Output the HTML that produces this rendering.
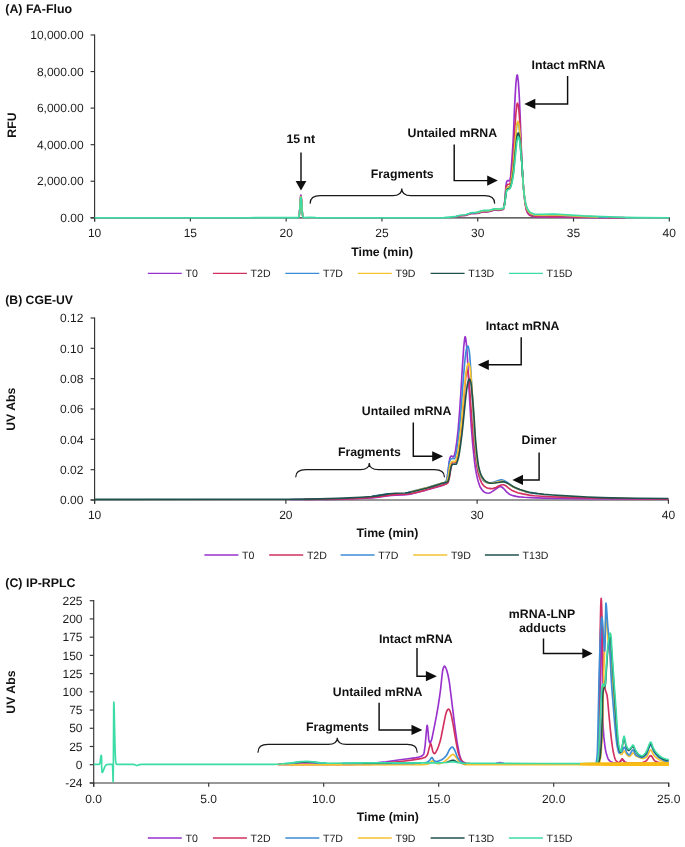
<!DOCTYPE html>
<html><head><meta charset="utf-8"><title>mRNA-LNP chromatograms</title>
<style>
html,body{margin:0;padding:0;background:#fff;}
body{width:685px;height:847px;overflow:hidden;}
svg{display:block;font-family:"Liberation Sans",sans-serif;will-change:transform;transform:translateZ(0);}
text{text-rendering:geometricPrecision;}
</style></head><body>
<svg width="685" height="847" viewBox="0 0 685 847">
<rect width="685" height="847" fill="#ffffff"/>
<text x="5.30" y="13.30" font-size="12.4" font-weight="bold" text-anchor="start" fill="#111">(A) FA-Fluo</text>
<line x1="94.60" y1="34.40" x2="94.60" y2="221.60" stroke="#333333" stroke-width="1.15"/>
<line x1="90.60" y1="217.80" x2="669.90" y2="217.80" stroke="#333333" stroke-width="1.15"/>
<line x1="90.60" y1="217.80" x2="94.60" y2="217.80" stroke="#333333" stroke-width="1.15"/>
<text x="83.60" y="222.00" font-size="12.0" text-anchor="end" fill="#1c1c1c">0.00</text>
<line x1="90.60" y1="181.24" x2="94.60" y2="181.24" stroke="#333333" stroke-width="1.15"/>
<text x="83.60" y="185.44" font-size="12.0" text-anchor="end" fill="#1c1c1c">2,000.00</text>
<line x1="90.60" y1="144.68" x2="94.60" y2="144.68" stroke="#333333" stroke-width="1.15"/>
<text x="83.60" y="148.88" font-size="12.0" text-anchor="end" fill="#1c1c1c">4,000.00</text>
<line x1="90.60" y1="108.12" x2="94.60" y2="108.12" stroke="#333333" stroke-width="1.15"/>
<text x="83.60" y="112.32" font-size="12.0" text-anchor="end" fill="#1c1c1c">6,000.00</text>
<line x1="90.60" y1="71.56" x2="94.60" y2="71.56" stroke="#333333" stroke-width="1.15"/>
<text x="83.60" y="75.76" font-size="12.0" text-anchor="end" fill="#1c1c1c">8,000.00</text>
<line x1="90.60" y1="35.00" x2="94.60" y2="35.00" stroke="#333333" stroke-width="1.15"/>
<text x="83.60" y="39.20" font-size="12.0" text-anchor="end" fill="#1c1c1c">10,000.00</text>
<line x1="94.60" y1="217.80" x2="94.60" y2="221.60" stroke="#333333" stroke-width="1.15"/>
<text x="94.60" y="236.70" font-size="12.0" text-anchor="middle" fill="#1c1c1c">10</text>
<line x1="190.38" y1="217.80" x2="190.38" y2="221.60" stroke="#333333" stroke-width="1.15"/>
<text x="190.38" y="236.70" font-size="12.0" text-anchor="middle" fill="#1c1c1c">15</text>
<line x1="286.17" y1="217.80" x2="286.17" y2="221.60" stroke="#333333" stroke-width="1.15"/>
<text x="286.17" y="236.70" font-size="12.0" text-anchor="middle" fill="#1c1c1c">20</text>
<line x1="381.95" y1="217.80" x2="381.95" y2="221.60" stroke="#333333" stroke-width="1.15"/>
<text x="381.95" y="236.70" font-size="12.0" text-anchor="middle" fill="#1c1c1c">25</text>
<line x1="477.73" y1="217.80" x2="477.73" y2="221.60" stroke="#333333" stroke-width="1.15"/>
<text x="477.73" y="236.70" font-size="12.0" text-anchor="middle" fill="#1c1c1c">30</text>
<line x1="573.52" y1="217.80" x2="573.52" y2="221.60" stroke="#333333" stroke-width="1.15"/>
<text x="573.52" y="236.70" font-size="12.0" text-anchor="middle" fill="#1c1c1c">35</text>
<line x1="669.30" y1="217.80" x2="669.30" y2="221.60" stroke="#333333" stroke-width="1.15"/>
<text x="669.30" y="236.70" font-size="12.0" text-anchor="middle" fill="#1c1c1c">40</text>
<text x="382.20" y="256.00" font-size="12.3" font-weight="bold" text-anchor="middle" fill="#111">Time (min)</text>
<text x="15.90" y="125.10" font-size="12.3" font-weight="bold" text-anchor="middle" fill="#111" transform="rotate(-90 15.90 125.10)">RFU</text>
<polyline points="298.10,217.65 298.50,217.45 298.80,216.99 299.10,215.93 299.30,214.69 299.70,210.48 300.50,197.88 300.70,195.84 300.90,195.03 301.10,195.60 301.30,197.45 302.10,209.99 302.50,214.41 302.70,215.73 303.00,216.88 303.30,217.38 303.70,217.60" fill="none" stroke="#9932CC" stroke-width="1.65" stroke-linejoin="round" stroke-linecap="butt" />
<polyline points="454.20,216.96 456.00,216.70 460.20,215.73 464.20,215.51 465.60,215.33 467.10,214.92 470.00,213.85 471.40,213.51 472.80,213.39 475.70,213.49 477.20,213.40 478.50,213.14 481.40,212.24 482.80,211.92 484.10,211.79 487.10,211.81 488.50,211.69 489.90,211.38 492.90,210.46 494.40,210.19 495.80,210.15 498.60,210.32 499.80,210.25 503.30,209.48 503.50,209.16 504.00,206.69 504.70,201.58 505.20,196.29 505.80,186.97 506.10,184.58 506.50,182.33 506.90,181.20 507.70,180.53 508.30,180.41 509.20,180.99 509.50,180.87 509.80,180.26 510.10,179.25 510.60,176.64 511.90,159.80 513.10,141.68 513.50,133.58 514.50,107.87 515.70,86.61 516.00,82.50 516.40,78.89 516.80,76.10 517.00,75.23 517.20,74.90 517.40,75.23 517.60,76.10 518.30,81.40 519.20,94.74 520.10,114.48 521.80,161.20 522.50,173.75 523.40,186.54 524.50,198.49 525.00,202.69 525.40,205.16 526.10,208.75 526.70,211.02 527.40,212.61 528.20,213.88 528.80,214.55 529.40,215.01 530.30,215.55 531.30,215.98 534.20,216.70 536.70,216.93 542.90,217.08 561.90,217.22 594.10,217.67 626.60,217.70" fill="none" stroke="#9932CC" stroke-width="1.65" stroke-linejoin="round" stroke-linecap="butt" />
<polyline points="298.30,217.59 298.60,217.36 298.90,216.76 299.20,215.47 299.40,214.02 299.80,209.40 300.50,198.68 300.70,196.72 300.90,195.95 301.10,196.50 301.30,198.27 302.10,210.30 302.50,214.54 302.90,216.63 303.20,217.28 303.50,217.53" fill="none" stroke="#D2305F" stroke-width="1.65" stroke-linejoin="round" stroke-linecap="butt" />
<polyline points="455.70,216.71 460.20,215.66 464.30,215.42 465.70,215.21 467.10,214.82 470.10,213.70 471.50,213.37 472.80,213.26 475.70,213.33 477.10,213.23 478.50,212.95 481.40,212.03 482.80,211.71 484.10,211.58 487.10,211.61 488.50,211.49 489.90,211.19 492.90,210.27 494.40,210.00 495.80,209.96 498.60,210.13 499.80,210.06 502.80,209.33 503.40,209.08 503.60,208.63 503.90,207.37 504.60,203.03 505.20,197.83 505.80,190.61 506.50,186.16 506.90,185.21 507.60,184.58 508.30,184.33 509.30,184.51 509.60,184.27 510.00,183.47 510.40,182.26 510.80,179.94 512.00,168.96 513.20,155.87 514.60,131.23 515.90,113.19 516.80,105.11 517.10,103.73 517.40,103.23 517.60,103.34 517.90,104.01 518.40,106.17 518.90,110.54 519.50,117.55 520.10,127.42 521.60,158.01 522.30,170.43 523.20,184.04 524.20,195.26 525.10,202.77 526.20,208.50 526.70,210.32 527.20,211.57 527.90,212.84 528.70,213.88 530.00,214.89 531.50,215.60 534.10,216.28 536.30,216.52 543.10,216.68 560.80,216.79 594.20,217.48 624.50,217.65" fill="none" stroke="#D2305F" stroke-width="1.65" stroke-linejoin="round" stroke-linecap="butt" />
<polyline points="298.60,217.36 299.00,216.46 299.40,214.12 299.80,209.61 300.50,199.16 300.70,197.25 300.90,196.50 301.10,197.03 301.30,198.76 302.40,213.80 302.80,216.30 303.00,216.93 303.30,217.40" fill="none" stroke="#3C8CD6" stroke-width="1.65" stroke-linejoin="round" stroke-linecap="butt" />
<polyline points="471.00,213.06 472.60,212.82 475.70,212.78 477.00,212.65 478.40,212.33 481.20,211.39 482.50,211.05 484.10,210.87 487.10,210.92 488.50,210.82 489.90,210.53 492.80,209.65 494.10,209.39 495.60,209.32 498.60,209.50 499.90,209.41 503.20,208.62 503.60,208.31 503.80,207.83 504.10,206.54 504.80,202.33 505.90,192.72 506.50,189.01 506.90,188.13 507.50,187.51 508.20,187.14 509.30,186.99 509.80,186.53 510.50,184.97 511.20,181.60 512.40,173.54 513.30,166.17 515.10,143.02 516.50,128.03 516.80,125.65 517.10,124.11 517.50,122.89 517.70,122.59 517.90,122.48 518.10,122.57 518.30,122.88 518.70,124.48 519.30,128.41 519.70,131.98 521.80,162.22 523.10,182.87 523.70,190.00 524.40,196.44 525.30,202.61 525.80,205.05 526.40,207.37 526.90,208.88 527.50,210.23 528.20,211.36 529.00,212.35 530.20,213.41 531.50,214.10 533.80,214.88 535.70,215.20 543.70,215.34 551.30,215.17 555.20,215.22 562.60,215.48 584.80,216.54 608.10,217.17" fill="none" stroke="#3C8CD6" stroke-width="1.65" stroke-linejoin="round" stroke-linecap="butt" />
<polyline points="298.90,216.80 299.20,215.56 299.50,213.28 300.50,199.48 300.70,197.60 300.90,196.86 301.10,197.39 301.30,199.08 302.30,212.92 302.60,215.34 303.00,216.94" fill="none" stroke="#F6C230" stroke-width="1.65" stroke-linejoin="round" stroke-linecap="butt" />
<polyline points="476.00,212.65 478.00,212.32 481.30,211.22 482.80,210.86 484.20,210.73 487.10,210.79 488.50,210.69 489.90,210.40 492.90,209.49 494.40,209.23 495.80,209.19 498.50,209.37 499.80,209.30 503.30,208.50 503.70,208.09 504.10,206.57 504.80,202.36 505.90,192.63 506.50,188.87 506.90,187.97 507.50,187.34 508.20,186.96 509.30,186.83 509.80,186.36 510.50,184.77 511.20,181.26 512.40,172.98 513.30,165.42 515.10,141.78 516.50,126.72 516.80,124.35 517.10,122.83 517.50,121.68 517.70,121.42 517.90,121.36 518.10,121.50 518.30,121.86 518.70,123.57 519.30,127.71 519.70,131.43 521.80,162.23 523.10,182.88 523.60,188.91 524.20,194.72 525.10,201.25 525.60,203.89 526.10,205.94 526.70,207.95 527.30,209.45 527.90,210.53 528.80,211.76 530.00,212.94 531.10,213.61 533.50,214.53 535.60,214.93 543.70,215.07 551.20,214.87 555.10,214.91 562.60,215.22 583.10,216.31 598.20,216.83" fill="none" stroke="#F6C230" stroke-width="1.65" stroke-linejoin="round" stroke-linecap="butt" />
<polyline points="504.20,206.23 504.90,202.22 506.10,192.97 506.50,190.66 506.90,189.83 507.40,189.26 508.10,188.80 509.50,188.31 509.80,188.03 510.20,187.41 510.60,186.53 511.10,184.97 512.10,180.21 513.00,175.02 513.70,169.62 515.30,152.13 516.70,138.32 517.20,135.50 517.60,133.97 517.90,133.21 518.10,132.95 518.30,132.94 518.70,133.73 519.30,136.24 519.70,138.69 521.80,162.51 522.70,176.73" fill="none" stroke="#1E524C" stroke-width="1.65" stroke-linejoin="round" stroke-linecap="butt" />
<polyline points="94.60,217.70 247.90,217.70 265.10,217.52 278.40,217.69 297.90,217.68 298.40,217.55 298.80,217.06 299.10,216.12 299.30,215.01 299.70,211.24 300.50,199.96 300.70,198.13 300.90,197.41 301.10,197.92 301.30,199.57 302.10,210.80 302.50,214.75 302.70,215.94 303.00,216.96 303.40,217.49 303.90,217.63 310.10,217.30 316.00,217.64 320.20,217.70 434.30,217.70 443.90,217.56 454.30,216.69 456.10,216.35 460.30,215.24 465.20,214.78 466.80,214.36 469.80,213.17 471.10,212.76 472.60,212.51 475.70,212.39 477.10,212.22 478.50,211.85 481.50,210.81 482.90,210.49 484.20,210.38 487.10,210.44 488.50,210.35 490.00,210.04 492.90,209.17 494.40,208.91 495.70,208.87 498.70,209.05 500.20,208.91 503.50,208.11 503.80,207.80 504.20,206.29 504.90,202.40 506.20,192.88 506.50,191.28 506.90,190.47 507.50,189.82 508.10,189.43 509.40,188.93 509.90,188.50 510.40,187.69 510.90,186.60 511.50,184.62 512.80,178.52 513.70,172.72 516.80,142.19 517.70,137.95 518.00,137.11 518.30,136.80 518.50,136.92 518.70,137.26 519.20,138.79 519.60,140.51 519.90,142.90 521.80,162.60 523.00,181.54 523.50,187.79 524.20,194.43 525.00,199.93 525.90,204.27 526.60,206.62 527.30,208.45 527.90,209.56 529.00,211.08 530.00,212.12 530.90,212.75 533.50,213.85 534.60,214.15 535.70,214.29 543.80,214.40 551.10,214.11 554.90,214.15 562.50,214.54 583.50,215.92 601.80,216.66 623.70,217.36 637.70,217.64 669.30,217.70" fill="none" stroke="#3CDCA5" stroke-width="1.65" stroke-linejoin="round" stroke-linecap="butt" />
<text x="300.80" y="142.90" font-size="12.3" font-weight="bold" text-anchor="middle" fill="#111">15 nt</text>
<line x1="301.00" y1="152.50" x2="301.00" y2="181.00" stroke="#111" stroke-width="1.45"/>
<polygon points="295.60,181.00 301.00,190.50 306.40,181.00" fill="#111"/>
<text x="402.20" y="177.90" font-size="12.3" font-weight="bold" text-anchor="middle" fill="#111">Fragments</text>
<path d="M310.20,203.20 Q310.20,195.60 320.20,195.60 L392.80,195.60 Q401.80,195.60 401.80,188.40 Q401.80,195.60 410.80,195.60 L484.60,195.60 Q494.60,195.60 494.60,203.20" fill="none" stroke="#1a1a1a" stroke-width="1.2" stroke-linecap="round"/>
<text x="452.30" y="137.30" font-size="12.3" font-weight="bold" text-anchor="middle" fill="#111">Untailed mRNA</text>
<polyline points="454.20,144.50 454.20,180.60 488.20,180.60" fill="none" stroke="#0d0d0d" stroke-width="1.45" stroke-linejoin="miter"/>
<polygon points="487.20,175.45 497.80,180.60 487.20,185.75" fill="#0d0d0d"/>
<text x="568.40" y="68.60" font-size="12.3" font-weight="bold" text-anchor="middle" fill="#111">Intact mRNA</text>
<polyline points="567.60,76.00 567.60,103.90 534.30,103.90" fill="none" stroke="#0d0d0d" stroke-width="1.45" stroke-linejoin="miter"/>
<polygon points="535.30,98.75 524.30,103.90 535.30,109.05" fill="#0d0d0d"/>
<line x1="147.80" y1="273.40" x2="181.80" y2="273.40" stroke="#9932CC" stroke-width="1.4"/>
<text x="185.50" y="277.00" font-size="10.6" text-anchor="start" fill="#1c1c1c">T0</text>
<line x1="212.90" y1="273.40" x2="246.90" y2="273.40" stroke="#D2305F" stroke-width="1.4"/>
<text x="250.60" y="277.00" font-size="10.6" text-anchor="start" fill="#1c1c1c">T2D</text>
<line x1="285.30" y1="273.40" x2="319.30" y2="273.40" stroke="#3C8CD6" stroke-width="1.4"/>
<text x="323.00" y="277.00" font-size="10.6" text-anchor="start" fill="#1c1c1c">T7D</text>
<line x1="357.80" y1="273.40" x2="391.80" y2="273.40" stroke="#F6C230" stroke-width="1.4"/>
<text x="395.50" y="277.00" font-size="10.6" text-anchor="start" fill="#1c1c1c">T9D</text>
<line x1="430.60" y1="273.40" x2="464.60" y2="273.40" stroke="#1E524C" stroke-width="1.4"/>
<text x="468.30" y="277.00" font-size="10.6" text-anchor="start" fill="#1c1c1c">T13D</text>
<line x1="508.90" y1="273.40" x2="542.90" y2="273.40" stroke="#3CDCA5" stroke-width="1.4"/>
<text x="546.60" y="277.00" font-size="10.6" text-anchor="start" fill="#1c1c1c">T15D</text>
<text x="5.30" y="303.70" font-size="12.2" font-weight="bold" text-anchor="start" fill="#111">(B) CGE-UV</text>
<line x1="94.60" y1="317.40" x2="94.60" y2="503.80" stroke="#333333" stroke-width="1.15"/>
<line x1="90.60" y1="500.00" x2="669.00" y2="500.00" stroke="#333333" stroke-width="1.15"/>
<line x1="90.60" y1="500.00" x2="94.60" y2="500.00" stroke="#333333" stroke-width="1.15"/>
<text x="83.40" y="504.20" font-size="12.0" text-anchor="end" fill="#1c1c1c">0.00</text>
<line x1="90.60" y1="469.67" x2="94.60" y2="469.67" stroke="#333333" stroke-width="1.15"/>
<text x="83.40" y="473.87" font-size="12.0" text-anchor="end" fill="#1c1c1c">0.02</text>
<line x1="90.60" y1="439.33" x2="94.60" y2="439.33" stroke="#333333" stroke-width="1.15"/>
<text x="83.40" y="443.53" font-size="12.0" text-anchor="end" fill="#1c1c1c">0.04</text>
<line x1="90.60" y1="409.00" x2="94.60" y2="409.00" stroke="#333333" stroke-width="1.15"/>
<text x="83.40" y="413.20" font-size="12.0" text-anchor="end" fill="#1c1c1c">0.06</text>
<line x1="90.60" y1="378.67" x2="94.60" y2="378.67" stroke="#333333" stroke-width="1.15"/>
<text x="83.40" y="382.87" font-size="12.0" text-anchor="end" fill="#1c1c1c">0.08</text>
<line x1="90.60" y1="348.33" x2="94.60" y2="348.33" stroke="#333333" stroke-width="1.15"/>
<text x="83.40" y="352.53" font-size="12.0" text-anchor="end" fill="#1c1c1c">0.10</text>
<line x1="90.60" y1="318.00" x2="94.60" y2="318.00" stroke="#333333" stroke-width="1.15"/>
<text x="83.40" y="322.20" font-size="12.0" text-anchor="end" fill="#1c1c1c">0.12</text>
<line x1="94.60" y1="500.00" x2="94.60" y2="503.80" stroke="#333333" stroke-width="1.15"/>
<text x="94.60" y="519.30" font-size="12.0" text-anchor="middle" fill="#1c1c1c">10</text>
<line x1="285.87" y1="500.00" x2="285.87" y2="503.80" stroke="#333333" stroke-width="1.15"/>
<text x="285.87" y="519.30" font-size="12.0" text-anchor="middle" fill="#1c1c1c">20</text>
<line x1="477.13" y1="500.00" x2="477.13" y2="503.80" stroke="#333333" stroke-width="1.15"/>
<text x="477.13" y="519.30" font-size="12.0" text-anchor="middle" fill="#1c1c1c">30</text>
<line x1="668.40" y1="500.00" x2="668.40" y2="503.80" stroke="#333333" stroke-width="1.15"/>
<text x="668.40" y="519.30" font-size="12.0" text-anchor="middle" fill="#1c1c1c">40</text>
<text x="387.40" y="536.60" font-size="12.3" font-weight="bold" text-anchor="middle" fill="#111">Time (min)</text>
<text x="15.10" y="409.20" font-size="12.3" font-weight="bold" text-anchor="middle" fill="#111" transform="rotate(-90 15.10 409.20)">UV Abs</text>
<polyline points="289.60,499.50 310.20,499.48 330.00,499.32 343.90,499.13 354.60,498.79 371.60,497.89 376.50,497.39 387.10,495.96 391.80,495.44 395.40,495.18 403.10,494.90 406.20,494.70 410.20,494.11 415.20,492.99 422.10,491.26 431.00,488.62 438.20,486.81 440.90,485.98 443.80,484.87 444.70,484.43 445.50,483.82 446.00,483.25 446.30,482.42 447.30,477.43 448.20,470.50 449.10,462.11 450.00,457.74 450.50,456.49 451.10,456.15 451.90,456.01 452.90,456.88 453.20,457.00 453.50,456.83 453.90,456.16 454.60,454.15 455.40,451.10 456.70,442.46 458.10,430.17 459.40,414.00 460.90,392.27 462.70,362.11 463.70,347.28 464.60,339.12 464.90,337.38 465.20,336.70 465.50,337.38 465.80,339.12 466.50,345.02 466.80,348.48 467.70,362.41 469.90,404.77 471.20,425.68 472.70,444.30 474.50,461.36 475.40,468.14 476.30,473.38 477.30,478.10 478.40,482.03 479.60,485.61 480.60,487.85 482.20,490.09 483.80,491.69 485.00,492.42 486.80,492.99 488.30,493.20 489.40,493.05 490.90,492.38 494.00,490.41 497.60,487.76 499.50,486.81 500.60,486.60 501.10,486.71 501.70,487.01 503.40,488.26 504.10,488.97 506.30,491.61 508.70,493.71 509.60,494.35 510.40,494.78 513.10,495.66 516.20,496.36 519.40,496.82 524.30,497.28 531.10,497.65 543.50,498.06 577.80,498.67 623.40,499.05 668.40,499.20" fill="none" stroke="#9932CC" stroke-width="1.65" stroke-linejoin="round" stroke-linecap="butt" />
<polyline points="304.30,499.36 322.10,499.18 342.20,498.82 350.80,498.56 359.80,498.15 369.50,497.58 374.80,497.17 379.30,496.62 389.60,495.12 394.40,494.58 397.90,494.36 406.10,494.09 408.70,493.90 411.20,493.53 414.00,492.96 425.40,490.08 441.30,485.57 446.20,483.93 447.50,483.21 448.00,482.73 448.30,482.07 449.30,478.17 450.20,472.83 451.10,466.37 452.00,462.99 452.50,462.01 453.10,461.72 453.90,461.59 454.90,462.22 455.20,462.30 455.50,462.16 455.90,461.63 456.60,460.06 457.40,457.69 458.70,451.02 460.10,441.54 461.40,429.09 462.90,412.38 464.70,389.19 465.70,377.78 466.60,371.49 466.90,370.13 467.20,369.60 467.50,370.10 467.80,371.42 468.50,375.89 468.80,378.52 469.70,389.11 471.70,418.66 473.10,436.17 474.60,450.61 476.40,463.77 477.20,468.52 478.10,472.70 479.10,476.45 480.10,479.31 481.40,482.36 482.50,484.31 483.90,485.85 485.50,487.14 486.60,487.72 487.90,488.09 490.60,488.67 492.20,488.67 493.40,488.39 495.90,487.40 499.10,485.82 501.10,485.06 502.30,484.74 503.20,484.75 504.30,485.08 505.70,485.72 508.30,487.86 510.80,489.60 512.20,490.46 515.20,491.83 517.70,492.69 522.70,493.91 529.50,495.12 534.70,495.70 541.90,496.25 550.50,496.72 561.20,497.14 599.50,498.27 634.90,498.72 668.40,498.91" fill="none" stroke="#D2305F" stroke-width="1.65" stroke-linejoin="round" stroke-linecap="butt" />
<polyline points="371.90,496.22 384.80,494.20 389.30,493.61" fill="none" stroke="#3C8CD6" stroke-width="1.65" stroke-linejoin="round" stroke-linecap="butt" />
<polyline points="405.20,492.84 407.60,492.46 410.40,491.85 428.20,487.23 441.10,483.17 444.40,482.52 445.70,481.85 446.00,481.59 446.20,481.22 446.70,479.58 447.40,476.33 449.00,464.36 449.30,462.53 449.60,461.41 450.30,459.70 450.60,459.24 450.90,458.97 451.60,458.64 452.20,458.48 452.80,458.49 454.20,458.75 454.40,458.67 454.60,458.43 455.10,457.28 455.60,455.52 456.50,451.61 456.90,449.45 457.60,444.30 458.70,434.80 460.20,419.61 461.00,410.13 463.70,373.88 464.70,362.48 465.60,354.44 466.20,350.29 466.50,348.96 467.10,347.09 467.50,346.26 467.80,346.05 468.10,346.36 468.40,347.18 469.20,350.85 469.60,354.21 470.10,360.23 471.70,384.33 472.40,397.25 473.40,418.76 474.00,429.04 474.80,440.65 475.90,453.02 476.80,460.87 477.80,466.48 478.50,469.63 479.20,472.24 479.90,474.33 480.60,475.95 482.10,478.79 483.50,480.72 484.60,481.64 485.70,482.21 486.70,482.60 487.70,482.85 488.70,482.97 489.70,482.96 490.80,482.82 493.30,482.20 499.80,480.06 501.30,479.81 502.40,479.90 503.90,480.47 506.60,482.00 511.40,485.74 513.00,486.83 515.40,488.11 518.10,489.29 523.20,491.07 527.00,492.17 531.70,493.02 537.40,493.79" fill="none" stroke="#3C8CD6" stroke-width="1.65" stroke-linejoin="round" stroke-linecap="butt" />
<polyline points="410.60,491.99 427.60,487.62 432.40,486.21 441.90,483.17 443.90,482.77" fill="none" stroke="#F6C230" stroke-width="1.65" stroke-linejoin="round" stroke-linecap="butt" />
<polyline points="444.30,482.69 445.60,482.31 446.70,481.70 447.00,481.28 447.30,480.50 448.30,476.45 450.00,465.38 450.30,464.19 450.80,462.98 451.50,461.91 452.30,461.52 453.30,461.33 455.00,461.57 455.40,461.29 455.80,460.53 456.20,459.41 457.50,454.46 458.20,450.34 459.30,442.20 460.90,428.34 461.80,419.09 464.50,387.44 465.50,377.48 466.40,370.46 467.00,366.83 467.30,365.68 467.90,364.04 468.30,363.32 468.60,363.13 468.90,363.40 469.20,364.12 469.90,366.83 470.30,369.39 470.70,373.26 471.80,386.57 472.40,395.04 473.20,407.85 474.20,426.64 475.20,440.99 476.60,455.69 477.20,460.70 477.80,464.60 478.90,469.59 480.00,473.40 481.00,475.88 482.70,478.85 484.00,480.54 484.70,481.20 485.30,481.62 486.60,482.27 487.80,482.73 489.00,483.05 490.10,483.18" fill="none" stroke="#F6C230" stroke-width="1.65" stroke-linejoin="round" stroke-linecap="butt" />
<polyline points="491.10,483.17 493.70,482.85 500.30,481.51 501.70,481.32 502.50,481.31 503.30,481.43 505.20,482.15" fill="none" stroke="#F6C230" stroke-width="1.65" stroke-linejoin="round" stroke-linecap="butt" />
<polyline points="507.70,483.37 512.90,486.72 516.20,488.30 519.50,489.58 523.70,490.98 526.70,491.89 529.10,492.44" fill="none" stroke="#F6C230" stroke-width="1.65" stroke-linejoin="round" stroke-linecap="butt" />
<polyline points="94.60,499.30 289.70,499.29 305.60,499.13 319.60,498.88 338.10,498.36 349.50,497.92 361.00,497.26 371.60,496.45 376.50,495.82 387.40,494.07 392.20,493.49 395.70,493.27 405.10,492.99 408.20,492.65 412.30,491.80 427.20,487.98 432.80,486.37 442.80,483.17 446.10,482.40 447.00,482.04 447.70,481.61 448.00,481.13 448.40,480.08 449.20,477.13 450.90,467.54 451.10,466.77 451.50,465.84 452.20,464.71 452.50,464.45 452.90,464.28 454.10,464.00 455.90,464.20 456.30,463.96 456.70,463.30 457.20,462.05 458.50,457.63 459.20,453.89 460.30,446.78 461.90,434.63 462.70,427.47 465.40,400.11 466.40,391.51 467.30,385.44 467.90,382.30 468.20,381.30 468.80,379.89 469.20,379.26 469.50,379.10 469.80,379.33 470.10,379.96 470.90,382.72 471.30,385.26 471.70,388.82 473.30,406.69 474.10,417.77 475.10,434.01 475.90,444.16 476.90,454.15 478.20,464.11 478.70,466.85 479.60,470.47 480.40,473.10 481.30,475.43 482.30,477.30 483.70,479.34 484.90,480.69 486.00,481.54 487.60,482.30 489.10,482.87 490.30,483.18 491.50,483.30 494.80,483.04 498.40,482.53 502.10,481.87 503.30,481.80 504.20,481.92 505.50,482.34 508.50,483.66 513.50,486.67 515.60,487.71 520.00,489.45 525.70,491.33 529.00,492.24 532.80,492.92 538.10,493.67 544.20,494.33 552.30,494.98 562.30,495.61 587.20,496.96 601.80,497.58 611.00,497.82 637.00,498.26 668.40,498.50" fill="none" stroke="#1E524C" stroke-width="1.65" stroke-linejoin="round" stroke-linecap="butt" />
<text x="369.40" y="455.80" font-size="12.3" font-weight="bold" text-anchor="middle" fill="#111">Fragments</text>
<path d="M295.80,476.80 Q295.80,469.60 305.80,469.60 L360.30,469.60 Q369.30,469.60 369.30,463.00 Q369.30,469.60 378.30,469.60 L434.40,469.60 Q444.40,469.60 444.40,476.80" fill="none" stroke="#1a1a1a" stroke-width="1.2" stroke-linecap="round"/>
<text x="406.60" y="414.50" font-size="12.3" font-weight="bold" text-anchor="middle" fill="#111">Untailed mRNA</text>
<polyline points="413.30,422.40 413.30,456.30 433.20,456.30" fill="none" stroke="#0d0d0d" stroke-width="1.45" stroke-linejoin="miter"/>
<polygon points="432.20,451.15 443.10,456.30 432.20,461.45" fill="#0d0d0d"/>
<text x="522.60" y="329.50" font-size="12.3" font-weight="bold" text-anchor="middle" fill="#111">Intact mRNA</text>
<polyline points="521.20,337.30 521.20,364.80 487.80,364.80" fill="none" stroke="#0d0d0d" stroke-width="1.45" stroke-linejoin="miter"/>
<polygon points="488.80,359.65 477.80,364.80 488.80,369.95" fill="#0d0d0d"/>
<text x="539.00" y="444.40" font-size="12.3" font-weight="bold" text-anchor="middle" fill="#111">Dimer</text>
<polyline points="539.10,452.60 539.10,479.90 522.00,479.90" fill="none" stroke="#0d0d0d" stroke-width="1.45" stroke-linejoin="miter"/>
<polygon points="523.00,474.75 512.40,479.90 523.00,485.05" fill="#0d0d0d"/>
<line x1="204.40" y1="555.00" x2="238.40" y2="555.00" stroke="#9932CC" stroke-width="1.4"/>
<text x="242.10" y="558.60" font-size="10.6" text-anchor="start" fill="#1c1c1c">T0</text>
<line x1="269.20" y1="555.00" x2="303.20" y2="555.00" stroke="#D2305F" stroke-width="1.4"/>
<text x="306.90" y="558.60" font-size="10.6" text-anchor="start" fill="#1c1c1c">T2D</text>
<line x1="340.60" y1="555.00" x2="374.60" y2="555.00" stroke="#3C8CD6" stroke-width="1.4"/>
<text x="378.30" y="558.60" font-size="10.6" text-anchor="start" fill="#1c1c1c">T7D</text>
<line x1="413.20" y1="555.00" x2="447.20" y2="555.00" stroke="#F6C230" stroke-width="1.4"/>
<text x="450.90" y="558.60" font-size="10.6" text-anchor="start" fill="#1c1c1c">T9D</text>
<line x1="484.90" y1="555.00" x2="518.90" y2="555.00" stroke="#1E524C" stroke-width="1.4"/>
<text x="522.60" y="558.60" font-size="10.6" text-anchor="start" fill="#1c1c1c">T13D</text>
<text x="5.30" y="587.00" font-size="12.4" font-weight="bold" text-anchor="start" fill="#111">(C) IP-RPLC</text>
<line x1="93.70" y1="600.12" x2="93.70" y2="786.80" stroke="#333333" stroke-width="1.15"/>
<line x1="89.70" y1="783.00" x2="668.70" y2="783.00" stroke="#333333" stroke-width="1.15"/>
<line x1="668.70" y1="782.40" x2="668.70" y2="786.80" stroke="#333333" stroke-width="1.15"/>
<line x1="89.70" y1="600.72" x2="93.70" y2="600.72" stroke="#333333" stroke-width="1.15"/>
<text x="82.50" y="604.92" font-size="12.0" text-anchor="end" fill="#1c1c1c">225</text>
<line x1="89.70" y1="618.94" x2="93.70" y2="618.94" stroke="#333333" stroke-width="1.15"/>
<text x="82.50" y="623.14" font-size="12.0" text-anchor="end" fill="#1c1c1c">200</text>
<line x1="89.70" y1="637.16" x2="93.70" y2="637.16" stroke="#333333" stroke-width="1.15"/>
<text x="82.50" y="641.36" font-size="12.0" text-anchor="end" fill="#1c1c1c">175</text>
<line x1="89.70" y1="655.38" x2="93.70" y2="655.38" stroke="#333333" stroke-width="1.15"/>
<text x="82.50" y="659.58" font-size="12.0" text-anchor="end" fill="#1c1c1c">150</text>
<line x1="89.70" y1="673.60" x2="93.70" y2="673.60" stroke="#333333" stroke-width="1.15"/>
<text x="82.50" y="677.80" font-size="12.0" text-anchor="end" fill="#1c1c1c">125</text>
<line x1="89.70" y1="691.82" x2="93.70" y2="691.82" stroke="#333333" stroke-width="1.15"/>
<text x="82.50" y="696.02" font-size="12.0" text-anchor="end" fill="#1c1c1c">100</text>
<line x1="89.70" y1="710.04" x2="93.70" y2="710.04" stroke="#333333" stroke-width="1.15"/>
<text x="82.50" y="714.24" font-size="12.0" text-anchor="end" fill="#1c1c1c">75</text>
<line x1="89.70" y1="728.26" x2="93.70" y2="728.26" stroke="#333333" stroke-width="1.15"/>
<text x="82.50" y="732.46" font-size="12.0" text-anchor="end" fill="#1c1c1c">50</text>
<line x1="89.70" y1="746.48" x2="93.70" y2="746.48" stroke="#333333" stroke-width="1.15"/>
<text x="82.50" y="750.68" font-size="12.0" text-anchor="end" fill="#1c1c1c">25</text>
<line x1="89.70" y1="764.70" x2="93.70" y2="764.70" stroke="#333333" stroke-width="1.15"/>
<text x="82.50" y="768.90" font-size="12.0" text-anchor="end" fill="#1c1c1c">0</text>
<line x1="89.70" y1="783.00" x2="93.70" y2="783.00" stroke="#333333" stroke-width="1.15"/>
<text x="82.50" y="787.20" font-size="12.0" text-anchor="end" fill="#1c1c1c">-24</text>
<line x1="93.70" y1="783.00" x2="93.70" y2="786.80" stroke="#333333" stroke-width="1.15"/>
<text x="93.70" y="803.10" font-size="12.0" text-anchor="middle" fill="#1c1c1c">0.0</text>
<line x1="208.70" y1="783.00" x2="208.70" y2="786.80" stroke="#333333" stroke-width="1.15"/>
<text x="208.70" y="803.10" font-size="12.0" text-anchor="middle" fill="#1c1c1c">5.0</text>
<line x1="323.70" y1="783.00" x2="323.70" y2="786.80" stroke="#333333" stroke-width="1.15"/>
<text x="323.70" y="803.10" font-size="12.0" text-anchor="middle" fill="#1c1c1c">10.0</text>
<line x1="438.70" y1="783.00" x2="438.70" y2="786.80" stroke="#333333" stroke-width="1.15"/>
<text x="438.70" y="803.10" font-size="12.0" text-anchor="middle" fill="#1c1c1c">15.0</text>
<line x1="553.70" y1="783.00" x2="553.70" y2="786.80" stroke="#333333" stroke-width="1.15"/>
<text x="553.70" y="803.10" font-size="12.0" text-anchor="middle" fill="#1c1c1c">20.0</text>
<line x1="668.70" y1="783.00" x2="668.70" y2="786.80" stroke="#333333" stroke-width="1.15"/>
<text x="668.70" y="803.10" font-size="12.0" text-anchor="middle" fill="#1c1c1c">25.0</text>
<text x="387.80" y="821.00" font-size="12.3" font-weight="bold" text-anchor="middle" fill="#111">Time (min)</text>
<text x="15.10" y="692.10" font-size="12.3" font-weight="bold" text-anchor="middle" fill="#111" transform="rotate(-90 15.10 692.10)">UV Abs</text>
<polyline points="278.10,764.40 352.15,764.38 361.55,764.01 373.60,763.07" fill="none" stroke="#9932CC" stroke-width="1.65" stroke-linejoin="round" stroke-linecap="butt" />
<polyline points="378.05,762.67 386.10,761.81 398.25,760.04 408.05,758.78 416.30,757.58 419.05,756.97 421.25,756.26 422.50,755.51 423.55,754.43 423.90,753.44 424.25,751.73 425.20,745.00 426.25,732.48 426.85,726.72 427.15,725.24 427.25,725.24 427.40,725.78 427.65,727.66 428.10,732.02 428.70,739.39 428.95,740.60 429.40,742.07 429.65,742.60 429.90,742.87 430.15,742.85 430.45,742.53 430.85,741.72 431.55,739.86 432.05,738.08 436.50,715.70 438.15,706.10 439.60,696.51 440.70,688.40 442.05,675.25 442.60,671.03 443.05,668.96 443.45,667.64 444.05,666.48 444.30,666.18 444.50,666.10 444.70,666.18 444.95,666.46 445.80,667.97 446.35,669.23 446.95,670.97 448.05,675.28 449.15,680.99 449.75,685.22 454.55,724.04 455.75,733.07 457.35,743.77 459.15,753.16 459.75,755.51 460.60,758.09 461.30,759.87 461.90,760.96 462.75,761.74 463.90,762.43 464.95,762.82 466.50,763.14" fill="none" stroke="#9932CC" stroke-width="1.65" stroke-linejoin="round" stroke-linecap="butt" />
<polyline points="496.15,763.38 498.75,762.74 500.00,762.60 501.25,762.74 503.90,763.38" fill="none" stroke="#9932CC" stroke-width="1.65" stroke-linejoin="round" stroke-linecap="butt" />
<polyline points="595.80,763.79 596.65,763.58 597.40,763.14 598.25,762.32 598.60,761.71 599.00,757.69 599.50,747.54 599.70,741.48 599.90,730.08 601.15,634.63 601.40,624.00 601.65,618.31 601.80,617.00 601.95,618.16 602.10,621.21 602.30,629.54 602.85,705.32 603.05,721.93 603.25,727.98 603.80,736.42 604.50,742.97 605.15,747.74 605.65,750.59 606.20,753.00 607.15,756.24 608.05,758.62 608.55,759.58 609.05,760.25 610.10,761.15 611.20,761.86 612.80,762.46 616.00,762.91 618.00,763.00 618.55,762.86 619.15,762.46 620.70,761.14 621.95,759.94 622.35,759.68 622.70,759.60 623.00,759.69 623.30,759.95 624.45,761.49 624.95,761.97 627.35,762.99 628.45,763.30 629.50,763.47 646.70,763.87 668.70,764.00" fill="none" stroke="#9932CC" stroke-width="1.65" stroke-linejoin="round" stroke-linecap="butt" />
<polyline points="278.10,764.40 370.35,764.40 373.60,764.21 384.75,763.05" fill="none" stroke="#D2305F" stroke-width="1.65" stroke-linejoin="round" stroke-linecap="butt" />
<polyline points="388.75,762.67 400.45,761.45 411.35,760.07 420.65,758.62 422.85,758.09 424.75,757.44 425.50,756.97 426.20,756.32 426.95,755.37 427.60,754.30 428.00,753.06 428.95,748.92 429.95,745.24 430.35,744.09 430.65,743.71 430.90,743.88 431.25,744.87 431.95,747.59 432.65,750.92 432.95,751.90 433.60,752.94 434.10,753.46 434.55,753.60 435.00,753.35 435.85,752.15 437.45,749.11 438.55,746.29 439.75,742.60 440.45,740.06 441.20,736.75 445.05,717.36 445.75,714.21 446.40,712.13 447.05,710.57 447.85,709.44 448.15,709.18 448.40,709.10 448.70,709.19 449.05,709.48 449.55,710.07 449.85,710.60 450.75,713.16 451.35,715.44 453.25,725.06 455.05,736.07 457.15,747.89 458.05,752.00 459.20,755.80 460.35,758.87 460.85,759.85 461.35,760.55 462.50,761.59 463.65,762.36 464.75,762.85 466.10,763.16" fill="none" stroke="#D2305F" stroke-width="1.65" stroke-linejoin="round" stroke-linecap="butt" />
<polyline points="467.55,763.41 469.95,763.60 507.25,763.73" fill="none" stroke="#D2305F" stroke-width="1.65" stroke-linejoin="round" stroke-linecap="butt" />
<polyline points="595.95,763.80 596.50,763.66 597.00,763.21 597.50,762.36 597.95,761.20 598.35,759.60 598.50,756.10 599.05,726.67 600.15,632.88 600.70,606.60 601.00,600.11 601.20,598.30 601.45,600.98 601.75,608.60 603.00,667.36 603.20,672.60 603.65,678.99 604.15,683.69 604.75,687.34 605.55,690.52 606.80,694.21 607.20,696.29 607.75,701.21 608.90,714.41 610.40,730.07 611.45,739.59 612.40,746.67 613.20,751.55 614.30,756.39 615.20,759.34 615.65,760.23 616.70,761.48 617.55,762.19 618.30,762.49 618.90,762.41 619.65,761.85 620.70,760.77 621.75,759.10 622.20,758.80 622.50,758.94 622.80,759.30 623.85,761.26 624.30,761.87 625.10,762.20 626.60,762.61 628.15,762.89 629.65,763.00 640.70,762.96 641.85,762.76 643.15,762.34 644.60,761.71 646.20,760.87 647.15,759.84 649.50,756.36 650.15,755.77 650.75,755.60 651.30,755.85 651.90,756.51 653.75,759.59 654.40,760.50 654.90,760.94 655.75,761.35 658.20,762.24 660.80,762.83 665.20,763.34 668.70,763.50" fill="none" stroke="#D2305F" stroke-width="1.65" stroke-linejoin="round" stroke-linecap="butt" />
<polyline points="276.45,764.50 289.70,764.80 422.10,764.74 425.75,764.35 429.20,763.63 430.00,763.11 432.45,760.69 432.95,760.40 433.25,760.47 433.55,760.72 434.90,762.43 436.20,763.23 437.10,763.64 437.85,763.80 438.75,763.76 439.85,763.57 441.10,763.21 443.25,762.39 444.50,761.62 447.75,758.77 450.60,755.81 452.15,754.68 452.60,754.47 453.00,754.40 453.40,754.50 453.80,754.77 455.20,756.22 457.40,759.37 458.90,761.25 459.80,762.15 460.95,762.89 462.25,763.52 464.55,764.35 465.75,764.59 598.60,764.58 599.05,763.96 599.55,762.45 600.15,759.80 600.70,756.74 601.35,750.10 602.05,739.06 602.80,716.00 603.75,671.58 604.70,649.00 605.35,626.30 605.70,617.62 605.90,615.40 606.05,615.72 606.20,616.56 606.60,620.03 607.80,638.20 608.25,641.82 609.35,648.78 610.10,655.92 613.50,693.46 615.05,712.64 616.25,728.94 617.05,737.65 617.60,742.79 618.10,746.43 618.90,750.49 619.55,752.74 619.90,753.33 620.65,754.12 621.20,754.45 621.65,754.47 622.25,753.84 623.65,751.38 624.00,751.05 624.35,751.03 624.70,751.28 625.05,751.73 626.35,754.13 626.85,754.85 628.40,756.11 628.95,756.39 629.45,756.50 629.90,756.39 630.40,755.98 632.50,753.33 632.95,753.05 633.35,753.02 633.70,753.20 634.05,753.54 635.70,755.75 636.65,756.39 638.10,757.07 641.10,758.16 642.25,758.44 643.25,758.49 644.00,758.34 644.85,757.99 646.10,757.26 646.80,756.72 647.60,755.41 649.65,750.96 650.25,750.20 650.55,750.02 650.80,750.01 651.25,750.32 651.70,750.98 653.25,754.28 653.85,755.32 655.35,756.87 657.05,758.26 659.25,759.64 662.00,760.92 665.45,762.14 668.70,763.00" fill="none" stroke="#F6C230" stroke-width="1.65" stroke-linejoin="round" stroke-linecap="butt" />
<polyline points="284.90,763.79 292.00,763.23 301.20,762.23 305.45,762.00 309.20,762.11 318.40,762.91 325.75,763.26" fill="none" stroke="#3C8CD6" stroke-width="1.65" stroke-linejoin="round" stroke-linecap="butt" />
<polyline points="342.05,763.40 415.10,763.30 421.05,763.06" fill="none" stroke="#3C8CD6" stroke-width="1.65" stroke-linejoin="round" stroke-linecap="butt" />
<polyline points="424.60,762.69 426.60,762.35 427.40,761.99 428.35,761.38 429.70,760.31 431.20,758.00 431.55,757.64 431.85,757.50 432.10,757.57 432.40,757.90 433.70,760.21 434.90,761.10 435.75,761.46 436.75,761.46 438.05,761.18 440.25,760.40 441.60,759.75 442.75,759.02 443.90,758.13 446.20,755.89 447.05,754.53 448.80,750.81 449.60,749.39 451.20,747.52 451.75,747.12 452.20,747.00 452.65,747.17 453.15,747.67 454.65,750.06 455.30,751.53 457.25,756.83 458.10,758.31 459.30,760.09 460.25,761.22 461.15,761.96 462.85,762.75 464.25,763.19" fill="none" stroke="#3C8CD6" stroke-width="1.65" stroke-linejoin="round" stroke-linecap="butt" />
<polyline points="594.80,763.50 595.85,763.49 596.05,763.18 596.25,762.49 596.90,758.00 597.35,752.50 597.85,735.13 598.95,682.11 599.50,660.97 600.15,641.22 601.00,623.40 601.40,619.16 601.70,617.26 601.80,617.10 601.95,617.36 602.30,619.42 602.80,624.50 604.25,648.50 604.45,650.49 604.55,650.94 604.60,651.00 604.65,650.90 604.90,647.77 605.20,640.00 605.55,614.62 605.75,605.95 605.90,603.00 606.10,603.65 606.45,606.47 607.75,626.01 609.05,638.02 609.50,643.10 609.90,649.86 610.95,673.41 611.45,682.37 612.35,694.92 614.55,721.75 615.90,736.02 616.70,743.21 617.05,745.45 617.70,748.58 618.20,750.69 618.65,752.13 619.05,752.86 619.40,753.00 620.30,752.74 621.55,751.96 622.15,751.11 623.70,747.81 624.10,747.32 624.45,747.21 624.80,747.50 625.15,748.16 626.40,751.73 626.85,752.76 627.90,754.22 628.60,754.88 629.15,754.98 629.70,754.57 630.30,753.70 631.95,750.75 632.50,750.15 632.95,750.00 633.30,750.20 633.70,750.72 635.30,754.06 635.95,754.96 637.85,756.16 639.55,756.95 641.10,757.34 642.45,757.34 643.30,757.04 644.20,756.50 645.50,755.45 646.30,754.64 647.20,752.77 648.85,748.03 649.50,746.42 650.15,745.33 650.45,745.07 650.75,745.00 651.20,745.34 651.70,746.23 653.30,750.55 653.90,751.84 655.65,754.22 657.55,756.26 658.75,757.30 660.25,758.42 663.10,760.17 664.40,760.77 665.85,761.29 667.35,761.73 668.70,762.00" fill="none" stroke="#3C8CD6" stroke-width="1.65" stroke-linejoin="round" stroke-linecap="butt" />
<polyline points="295.30,762.66 301.40,762.01 305.70,761.80 309.70,761.94 315.95,762.51" fill="none" stroke="#1E524C" stroke-width="1.65" stroke-linejoin="round" stroke-linecap="butt" />
<polyline points="362.25,763.19 391.65,763.16" fill="none" stroke="#1E524C" stroke-width="1.65" stroke-linejoin="round" stroke-linecap="butt" />
<polyline points="445.90,762.51 447.05,762.23 449.45,761.19 451.50,760.48 452.35,760.26 453.05,760.20 453.60,760.29 454.25,760.55 458.45,762.85" fill="none" stroke="#1E524C" stroke-width="1.65" stroke-linejoin="round" stroke-linecap="butt" />
<polyline points="461.10,763.28 463.50,763.46 466.15,763.51" fill="none" stroke="#1E524C" stroke-width="1.65" stroke-linejoin="round" stroke-linecap="butt" />
<polyline points="595.55,763.80 597.60,763.79 597.95,763.58 598.35,763.03 599.00,761.52 599.65,759.38 600.10,757.52 600.40,755.36 601.05,747.45 601.70,735.68 602.30,716.00 602.65,697.22 602.80,694.62 603.10,691.56 603.45,689.54 603.80,688.46 604.50,687.23 604.95,686.12 605.45,684.08 605.70,681.11 607.10,658.21 607.80,649.72 609.05,638.82 609.60,636.32 609.80,635.73 610.00,635.50 610.20,635.76 610.45,636.67 610.85,639.45 611.45,649.76 616.55,725.91 617.25,734.96 617.85,741.60 618.35,745.69 619.15,749.36 619.85,751.57 620.20,752.11 620.40,752.20 620.55,752.14 620.90,751.62 621.30,750.52 622.15,747.36 623.25,740.71 623.80,738.51 624.10,738.00 624.25,738.18 624.45,738.87 625.95,745.86 627.30,749.12 627.85,750.00 628.35,750.44 628.80,750.47 629.35,750.14 630.75,748.75 632.20,746.88 632.65,746.55 633.05,746.53 633.40,746.83 633.75,747.37 635.40,750.85 636.70,752.60 637.80,753.89 638.80,754.84 640.80,756.35 641.65,756.68 642.45,756.61 643.15,756.26 643.95,755.63 645.50,754.00 646.00,753.33 647.45,750.42 648.65,747.65 649.75,744.76 650.40,743.70 650.75,743.51 651.05,743.80 651.60,744.79 652.90,748.29 654.45,751.11 656.25,753.65 658.40,755.91 660.30,757.50 662.00,758.50 664.20,759.44 665.85,760.02 667.35,760.38 668.70,760.50" fill="none" stroke="#1E524C" stroke-width="1.65" stroke-linejoin="round" stroke-linecap="butt" />
<polyline points="93.70,764.40 98.80,764.39 99.20,764.32 99.50,764.09 99.80,763.47 100.05,762.42 100.85,756.38 101.05,755.46 101.20,755.30 101.40,755.83 101.60,757.07 101.65,766.59 101.95,771.38 102.10,772.42 102.45,772.25 102.85,771.68 104.85,766.64 105.45,765.61 106.05,764.98 106.75,764.61 107.70,764.44 111.95,764.40 112.30,764.49 112.50,765.16 112.65,767.02 113.05,780.66 113.15,781.71 113.35,768.00 113.70,706.05 113.75,703.07 113.85,702.00 114.00,703.62 114.15,707.97 114.90,742.40 115.35,756.37 115.60,760.42 115.90,762.90 116.25,764.00 116.50,764.26 116.85,764.37 133.20,764.43 134.45,764.61 136.25,765.36 136.95,765.49 137.60,765.38 139.65,764.56 141.65,764.40 273.90,764.39 276.90,764.28 280.30,764.01 291.80,762.82 300.80,761.69 303.50,761.48 305.95,761.40 310.10,761.59 319.60,762.57 327.00,763.06 331.30,763.20 359.40,762.90 440.60,762.80 446.80,762.55 453.00,761.80 454.00,761.89 458.90,762.79 462.75,763.11 465.90,763.21 537.90,763.53 596.55,763.59 596.80,763.39 597.10,762.79 597.75,760.37 598.25,757.67 598.55,754.25 599.45,736.80 600.85,702.91 601.70,688.75 602.25,685.73 602.55,684.66 602.80,684.14 603.00,684.00 603.20,684.15 603.90,685.69 604.20,686.00 604.40,685.91 604.65,685.56 605.15,684.17 605.40,681.33 606.80,658.83 607.65,648.94 609.10,637.01 609.80,634.03 610.05,633.36 610.30,633.10 610.50,633.42 610.70,634.28 611.20,638.03 612.15,654.38 614.20,684.40 616.00,709.00 617.15,727.64 617.75,735.22 618.30,741.24 618.75,744.87 619.60,748.81 620.25,750.86 620.55,751.36 620.85,751.49 621.10,751.16 621.40,750.26 622.40,745.47 623.35,738.84 623.80,736.82 623.95,736.37 624.10,736.20 624.25,736.40 624.45,737.12 625.80,744.00 626.60,746.17 627.25,747.63 627.85,748.63 628.45,749.20 628.80,749.30 629.25,749.20 630.35,748.41 631.10,747.64 632.40,745.35 632.75,745.03 633.05,745.04 633.40,745.36 633.75,745.96 635.40,749.83 636.90,752.14 637.95,753.52 638.85,754.39 640.60,755.53 641.55,755.87 642.40,755.82 643.10,755.47 643.90,754.80 645.50,753.00 645.95,752.35 647.05,750.06 649.70,743.36 650.35,742.27 650.55,742.06 650.75,742.01 651.05,742.34 651.55,743.31 652.85,747.16 654.05,749.48 655.85,752.16 657.95,754.47 660.05,756.31 661.90,757.45 664.15,758.45 665.80,759.06 667.30,759.44 668.70,759.60" fill="none" stroke="#3CDCA5" stroke-width="1.65" stroke-linejoin="round" stroke-linecap="butt" />
<path d="M580,763.1 L588,762.6 L608,762.2 L668.9,761.9 L668.9,766.0 L608,765.9 L588,765.6 L580,765.2 Z" fill="#F9BC14"/>
<text x="337.50" y="731.40" font-size="12.3" font-weight="bold" text-anchor="middle" fill="#111">Fragments</text>
<path d="M258.00,752.20 Q258.00,744.40 268.00,744.40 L328.30,744.40 Q337.30,744.40 337.30,737.80 Q337.30,744.40 346.30,744.40 L407.20,744.40 Q417.20,744.40 417.20,752.20" fill="none" stroke="#1a1a1a" stroke-width="1.2" stroke-linecap="round"/>
<text x="377.60" y="696.40" font-size="12.3" font-weight="bold" text-anchor="middle" fill="#111">Untailed mRNA</text>
<polyline points="379.10,702.70 379.10,729.90 412.50,729.90" fill="none" stroke="#0d0d0d" stroke-width="1.45" stroke-linejoin="miter"/>
<polygon points="411.50,724.75 422.40,729.90 411.50,735.05" fill="#0d0d0d"/>
<text x="415.80" y="642.50" font-size="12.3" font-weight="bold" text-anchor="middle" fill="#111">Intact mRNA</text>
<polyline points="417.00,648.10 417.00,676.20 426.90,676.20" fill="none" stroke="#0d0d0d" stroke-width="1.45" stroke-linejoin="miter"/>
<polygon points="425.90,671.05 436.90,676.20 425.90,681.35" fill="#0d0d0d"/>
<text x="542.00" y="617.60" font-size="12.3" font-weight="bold" text-anchor="middle" fill="#111">mRNA-LNP</text>
<text x="542.60" y="631.50" font-size="12.3" font-weight="bold" text-anchor="middle" fill="#111">adducts</text>
<polyline points="543.50,638.40 543.50,653.40 583.30,653.40" fill="none" stroke="#0d0d0d" stroke-width="1.45" stroke-linejoin="miter"/>
<polygon points="582.30,648.25 592.60,653.40 582.30,658.55" fill="#0d0d0d"/>
<line x1="147.80" y1="838.00" x2="181.80" y2="838.00" stroke="#9932CC" stroke-width="1.4"/>
<text x="185.50" y="841.60" font-size="10.6" text-anchor="start" fill="#1c1c1c">T0</text>
<line x1="212.90" y1="838.00" x2="246.90" y2="838.00" stroke="#D2305F" stroke-width="1.4"/>
<text x="250.60" y="841.60" font-size="10.6" text-anchor="start" fill="#1c1c1c">T2D</text>
<line x1="285.30" y1="838.00" x2="319.30" y2="838.00" stroke="#3C8CD6" stroke-width="1.4"/>
<text x="323.00" y="841.60" font-size="10.6" text-anchor="start" fill="#1c1c1c">T7D</text>
<line x1="357.80" y1="838.00" x2="391.80" y2="838.00" stroke="#F6C230" stroke-width="1.4"/>
<text x="395.50" y="841.60" font-size="10.6" text-anchor="start" fill="#1c1c1c">T9D</text>
<line x1="430.60" y1="838.00" x2="464.60" y2="838.00" stroke="#1E524C" stroke-width="1.4"/>
<text x="468.30" y="841.60" font-size="10.6" text-anchor="start" fill="#1c1c1c">T13D</text>
<line x1="508.90" y1="838.00" x2="542.90" y2="838.00" stroke="#3CDCA5" stroke-width="1.4"/>
<text x="546.60" y="841.60" font-size="10.6" text-anchor="start" fill="#1c1c1c">T15D</text>
</svg>
</body></html>
